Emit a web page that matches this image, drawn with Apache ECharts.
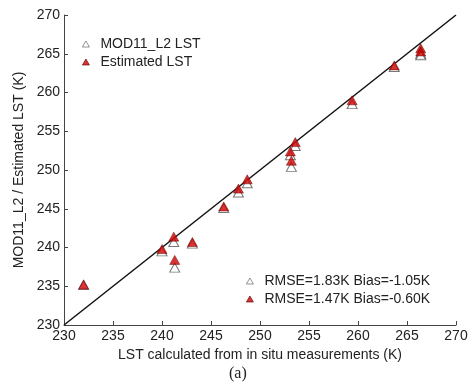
<!DOCTYPE html>
<html>
<head>
<meta charset="utf-8">
<script src="https://cdn.jsdelivr.net/npm/echarts@6/dist/echarts.min.js"></script>
<style>html,body{margin:0;padding:0;background:#fff}#c{width:472px;height:390px}</style>
</head>
<body>
<div id="c"></div>
<script>
const insitu    = [232.0, 240.0, 241.2, 241.3, 243.1, 246.3, 247.8, 248.7, 253.1, 253.2, 253.6, 259.4, 263.7, 266.4, 266.4];
const mod11     = [235.2, 239.5, 240.7, 237.4, 240.5, 245.1, 247.1, 248.3, 251.9, 250.4, 253.1, 258.5, 263.3, 265.0, 264.8];
const estimated = [235.2, 239.8, 241.4, 238.4, 240.7, 245.3, 247.6, 248.8, 252.4, 251.2, 253.6, 259.0, 263.5, 265.7, 265.3];
const oneToOne  = [230, 270];
const seriesNames = ['MOD11_L2 LST', 'Estimated LST'];
const statsText = {'MOD11_L2 LST': 'RMSE=1.83K Bias=-1.05K', 'Estimated LST': 'RMSE=1.47K Bias=-0.60K'};

const font = '"Liberation Sans", Arial, sans-serif';
const chart = echarts.init(document.getElementById('c'));
const axisCommon = {
  type: 'value', min: 230, max: 270, interval: 5,
  axisLine: {lineStyle: {color: '#444', width: 1}},
  axisTick: {inside: true, length: 4, lineStyle: {color: '#444'}},
  splitLine: {show: false},
  axisLabel: {color: '#222', fontSize: 14, fontFamily: font},
  nameLocation: 'middle',
  nameTextStyle: {color: '#222', fontSize: 14, fontFamily: font}
};
const legendCommon = {
  data: seriesNames, orient: 'vertical', icon: 'triangle', itemWidth: 7, itemHeight: 6, itemGap: 4,
  itemStyle: {borderWidth: 0.8},
  textStyle: {fontSize: 14, fontFamily: font, color: '#222', padding: [0,0,0,6]}
};
chart.setOption({
  animation: false,
  title: {text: '(a)', left: 224, top: 361, textStyle: {fontFamily: '"Liberation Serif", "Times New Roman", serif', fontWeight: 'normal', fontSize: 16, color: '#222'}},
  grid: {left: 64, right: 16, top: 15, bottom: 65},
  xAxis: Object.assign({}, axisCommon, {name: 'LST calculated from in situ measurements (K)', nameGap: 20, axisLabel: Object.assign({}, axisCommon.axisLabel, {margin: 4})}),
  yAxis: Object.assign({}, axisCommon, {name: 'MOD11_L2 / Estimated LST (K)', nameGap: 37, axisLabel: Object.assign({}, axisCommon.axisLabel, {margin: 4})}),
  legend: [
    Object.assign({}, legendCommon, {left: 77, top: 32}),
    Object.assign({}, legendCommon, {left: 241, top: 269, formatter: n => statsText[n]})
  ],
  series: [
    {type: 'line', data: [[oneToOne[0], oneToOne[0]], [oneToOne[1], oneToOne[1]]], symbol: 'none', silent: true,
     lineStyle: {color: '#111', width: 1.5}, z: 1},
    {name: seriesNames[0], type: 'scatter', symbol: 'triangle', symbolSize: [10, 9],
     data: insitu.map((x, i) => [x, mod11[i]]),
     itemStyle: {color: '#fff', borderColor: '#555', borderWidth: 1}, z: 2},
    {name: seriesNames[1], type: 'scatter', symbol: 'triangle', symbolSize: [10, 9],
     data: insitu.map((x, i) => [x, estimated[i]]),
     itemStyle: {color: '#d10000', borderColor: '#5a0000', borderWidth: 0.6}, z: 3}
  ]
});
</script>
</body>
</html>
